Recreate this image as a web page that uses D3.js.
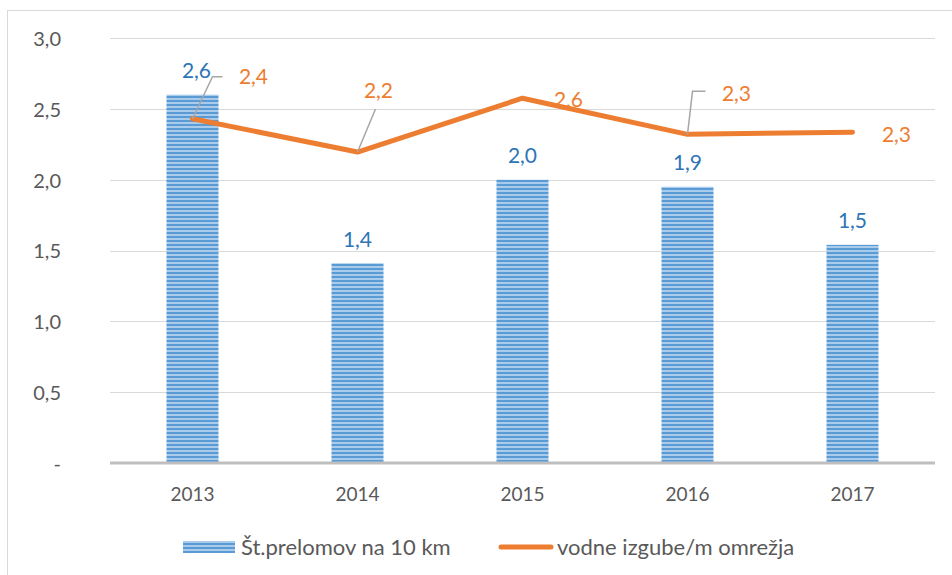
<!DOCTYPE html>
<html>
<head>
<meta charset="utf-8">
<script src="https://cdn.jsdelivr.net/npm/d3@7"></script>
<style>
  body { margin: 0; background: #fff; }
  svg { display: block; }
</style>
</head>
<body>
<svg id="chart" width="952" height="575"></svg>
<script>
const font = 'Lato'
const blue = '#5B9BD5'
const blueText = '#2E75B6'
const orange = '#ED7D31'
const tickColor = '#595959'

// data
const years = ['2013', '2014', '2015', '2016', '2017']
const breaks = [2.6, 1.41, 2.0, 1.95, 1.54]
const breakLabels = ['2,6', '1,4', '2,0', '1,9', '1,5']
const losses = [2.43, 2.195, 2.575, 2.32, 2.335]
const lossLabels = ['2,4', '2,2', '2,6', '2,3', '2,3']
const yTicks = [0, 0.5, 1.0, 1.5, 2.0, 2.5, 3.0]
const yTickLabels = ['-', '0,5', '1,0', '1,5', '2,0', '2,5', '3,0']
const seriesNames = ['Št.prelomov na 10 km', 'vodne izgube/m omrežja']

// placement of the line labels: offset of the label centre from the point
const lossLabelPos = [
  { dx: 61, dy: -42, leader: 'elbow' },
  { dx: 21, dy: -61, leader: 'straight' },
  { dx: 46, dy: 1, leader: null },
  { dx: 49, dy: -41, leader: 'elbow' },
  { dx: 44, dy: 2, leader: null }
]

const svg = d3.select('#chart')

// outer frame
svg.append('rect')
  .attr('x', 7.5).attr('y', 10.5)
  .attr('width', 1000).attr('height', 700)
  .attr('fill', 'none').attr('stroke', '#d9d9d9')

const plotLeft = 110, plotRight = 935, plotTop = 38, plotBottom = 463

const x = d3.scaleBand().domain(years).range([plotLeft, plotRight])
const y = d3.scaleLinear().domain([0, 3]).range([plotBottom, plotTop])

// stripe pattern for bars
const defs = svg.append('defs')
const pat = defs.append('pattern')
  .attr('id', 'stripes')
  .attr('patternUnits', 'userSpaceOnUse')
  .attr('width', 8).attr('height', 4)
pat.append('rect').attr('width', 8).attr('height', 4).attr('fill', '#a9cbec')
pat.append('rect').attr('width', 8).attr('height', 2).attr('fill', blue)

// gridlines
svg.append('g')
  .selectAll('line')
  .data(yTicks.filter(d => d > 0))
  .enter()
  .append('line')
  .attr('x1', plotLeft).attr('x2', plotRight)
  .attr('y1', d => Math.round(y(d)) + 0.5)
  .attr('y2', d => Math.round(y(d)) + 0.5)
  .attr('stroke', '#d9d9d9')

// y tick labels
const yAxis = d3.axisLeft(y)
  .tickValues(yTicks)
  .tickFormat((d, i) => yTickLabels[i])
  .tickSize(0)
  .tickPadding(0)
const yg = svg.append('g').attr('transform', 'translate(61,1)').call(yAxis)
yg.select('.domain').remove()
yg.selectAll('text')
  .attr('font-family', font).attr('font-size', 20).attr('fill', tickColor)

// bars
const barWidth = 52
const cx = i => x(years[i]) + x.bandwidth() / 2
svg.append('g')
  .selectAll('rect')
  .data(breaks)
  .enter()
  .append('rect')
  .attr('x', (d, i) => cx(i) - barWidth / 2)
  .attr('y', d => y(d))
  .attr('width', barWidth)
  .attr('height', d => plotBottom - y(d))
  .attr('fill', 'url(#stripes)')

// x axis
const xAxis = d3.axisBottom(x).tickSize(0).tickPadding(25)
const xg = svg.append('g').attr('transform', `translate(0,${plotBottom})`).call(xAxis)
xg.select('.domain').remove()
xg.selectAll('text')
  .attr('font-family', font).attr('font-size', 19).attr('fill', tickColor)
svg.append('line')
  .attr('x1', plotLeft).attr('x2', plotRight)
  .attr('y1', plotBottom).attr('y2', plotBottom)
  .attr('stroke', '#bfbfbf').attr('stroke-width', 3)

// bar value labels
svg.append('g')
  .selectAll('text')
  .data(breaks)
  .enter()
  .append('text')
  .attr('x', (d, i) => cx(i) + (i === 0 ? 4 : 0))
  .attr('y', d => y(d) - 24)
  .attr('dy', '0.35em')
  .attr('text-anchor', 'middle')
  .attr('font-family', font).attr('font-size', 21)
  .attr('fill', blueText)
  .text((d, i) => breakLabels[i])

// line
const line = d3.line()
  .x((d, i) => cx(i))
  .y(d => y(d))
svg.append('path')
  .datum(losses)
  .attr('d', line)
  .attr('fill', 'none')
  .attr('stroke', orange)
  .attr('stroke-width', 5)
  .attr('stroke-linejoin', 'round')
  .attr('stroke-linecap', 'round')

// leader lines + line labels
losses.forEach(function(d, i) {
  const p = lossLabelPos[i]
  const px = cx(i), py = y(d)
  const lx = px + p.dx, ly = py + p.dy
  let pts = null
  if (p.leader === 'elbow' && i === 0) pts = [[px, py], [px + 20, ly], [px + 30, ly]]
  if (p.leader === 'elbow' && i !== 0) pts = [[px, py], [px + 5, ly - 2], [px + 18, ly - 2]]
  if (p.leader === 'straight') pts = [[px, py], [lx - 3, ly + 18]]
  if (pts) {
    svg.append('path')
      .attr('d', d3.line()(pts))
      .attr('fill', 'none')
      .attr('stroke', '#a6a6a6')
      .attr('stroke-width', 1.5)
  }
  svg.append('text')
    .attr('x', lx).attr('y', ly)
    .attr('dy', '0.35em')
    .attr('text-anchor', 'middle')
    .attr('font-family', font).attr('font-size', 21)
    .attr('fill', orange)
    .text(lossLabels[i])
})

// legend
const lg = svg.append('g').attr('transform', 'translate(0,547)')
lg.append('rect')
  .attr('x', 183).attr('y', -6).attr('width', 52).attr('height', 12)
  .attr('fill', 'url(#stripes)')
lg.append('text')
  .attr('x', 241).attr('y', 0).attr('dy', '0.35em')
  .attr('font-family', font).attr('font-size', 22).attr('fill', tickColor)
  .text(seriesNames[0])
lg.append('line')
  .attr('x1', 501).attr('x2', 551).attr('y1', 0).attr('y2', 0)
  .attr('stroke', orange).attr('stroke-width', 5).attr('stroke-linecap', 'round')
lg.append('text')
  .attr('x', 557).attr('y', 0).attr('dy', '0.35em')
  .attr('font-family', font).attr('font-size', 22).attr('fill', tickColor)
  .text(seriesNames[1])
</script>
</body>
</html>
